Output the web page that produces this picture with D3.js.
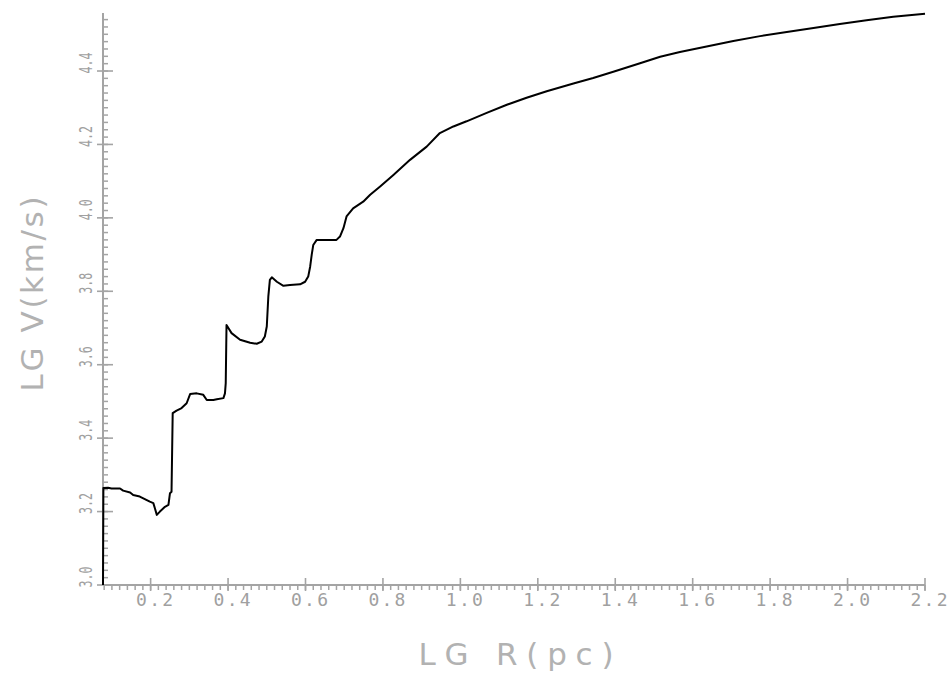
<!DOCTYPE html>
<html>
<head>
<meta charset="utf-8">
<script src="https://cdn.jsdelivr.net/npm/d3@7"></script>
<style>
    body { margin: 0; background: #ffffff; }
    .lbl { font-family: "DejaVu Sans Mono", monospace; fill: #a0a0a0; }
    .ttl { font-family: "DejaVu Sans", sans-serif; fill: #b2b2b2; }
</style>
</head>
<body>
<script>

    // Rotation curve: lg V vs lg R
    var lgR = [0.077, 0.078, 0.090, 0.099, 0.121, 0.129, 0.147, 0.155, 0.172, 0.185,
               0.198, 0.207, 0.211, 0.216, 0.224, 0.237, 0.246, 0.250, 0.254, 0.257,
               0.267, 0.280, 0.293, 0.302, 0.319, 0.336, 0.345, 0.362, 0.371, 0.388,
               0.392, 0.394, 0.396, 0.409, 0.431, 0.457, 0.474, 0.487, 0.495, 0.500,
               0.504, 0.508, 0.513, 0.526, 0.543, 0.560, 0.586, 0.599, 0.607, 0.612,
               0.616, 0.620, 0.629, 0.655, 0.680, 0.689, 0.698, 0.706, 0.723, 0.749,
               0.767, 0.792, 0.827, 0.870, 0.913, 0.947, 0.982, 1.016, 1.068, 1.120,
               1.171, 1.223, 1.292, 1.343, 1.395, 1.464, 1.516, 1.567, 1.636, 1.705,
               1.774, 1.843, 1.912, 1.980, 2.049, 2.118, 2.200];

    var lgV = [3.000, 3.264, 3.265, 3.263, 3.263, 3.257, 3.252, 3.245, 3.241, 3.234,
               3.227, 3.223, 3.209, 3.191, 3.200, 3.213, 3.218, 3.250, 3.254, 3.468,
               3.475, 3.482, 3.495, 3.520, 3.522, 3.518, 3.504, 3.504, 3.506, 3.509,
               3.522, 3.550, 3.708, 3.686, 3.668, 3.660, 3.657, 3.663, 3.677, 3.704,
               3.786, 3.831, 3.838, 3.826, 3.815, 3.817, 3.819, 3.826, 3.840, 3.867,
               3.899, 3.926, 3.940, 3.940, 3.940, 3.949, 3.972, 4.004, 4.026, 4.044,
               4.063, 4.085, 4.117, 4.158, 4.194, 4.231, 4.249, 4.263, 4.286, 4.308,
               4.327, 4.345, 4.366, 4.381, 4.398, 4.421, 4.439, 4.452, 4.467, 4.482,
               4.495, 4.506, 4.517, 4.528, 4.538, 4.548, 4.556];

    var xMajorTicks = [0.2, 0.4, 0.6, 0.8, 1.0, 1.2, 1.4, 1.6, 1.8, 2.0, 2.2];
    var xTickLabels = ["0.2", "0.4", "0.6", "0.8", "1.0", "1.2", "1.4", "1.6", "1.8", "2.0", "2.2"];
    var yMajorTicks = [3.0, 3.2, 3.4, 3.6, 3.8, 4.0, 4.2, 4.4];
    var yTickLabels = ["3.0", "3.2", "3.4", "3.6", "3.8", "4.0", "4.2", "4.4"];

    var xTitle = "LG R(pc)";
    var yTitle = "LG V(km/s)";

    var width = 950, height = 673;
    var axisColor = "#a4a4a4";

    var svg = d3.select("body").append("svg")
                .attr("width", width)
                .attr("height", height);

    var x = d3.scaleLinear().domain([0.077, 2.2]).range([103, 925]);
    var y = d3.scaleLinear().domain([3.0, 4.558]).range([585, 13]);

    // Minor ticks every 0.02 (x hangs below, y points inward)
    var xMinor = d3.range(0.08, 2.2001, 0.02);
    var yMinor = d3.range(3.0, 4.5501, 0.02);

    var axes = svg.append("g").attr("class", "axes");

    axes.selectAll(".xminor")
        .data(xMinor)
        .enter().append("line")
        .attr("class", "xminor")
        .attr("x1", function(d){ return x(d); })
        .attr("x2", function(d){ return x(d); })
        .attr("y1", y(3.0))
        .attr("y2", y(3.0) + 5)
        .attr("stroke", axisColor)
        .attr("stroke-width", 1.5);

    axes.selectAll(".yminor")
        .data(yMinor)
        .enter().append("line")
        .attr("class", "yminor")
        .attr("x1", x(0.077))
        .attr("x2", x(0.077) + 5)
        .attr("y1", function(d){ return y(d); })
        .attr("y2", function(d){ return y(d); })
        .attr("stroke", axisColor)
        .attr("stroke-width", 1.5);

    // Major ticks cross the axis line
    axes.selectAll(".xmajor")
        .data(xMajorTicks)
        .enter().append("line")
        .attr("class", "xmajor")
        .attr("x1", function(d){ return x(d); })
        .attr("x2", function(d){ return x(d); })
        .attr("y1", y(3.0) - 7)
        .attr("y2", y(3.0) + 6)
        .attr("stroke", axisColor)
        .attr("stroke-width", 1.6);

    axes.selectAll(".ymajor")
        .data(yMajorTicks)
        .enter().append("line")
        .attr("class", "ymajor")
        .attr("x1", x(0.077) - 6)
        .attr("x2", x(0.077) + 10)
        .attr("y1", function(d){ return y(d); })
        .attr("y2", function(d){ return y(d); })
        .attr("stroke", axisColor)
        .attr("stroke-width", 1.6);

    // Axis lines
    axes.append("line")
        .attr("x1", x(0.077)).attr("x2", x(2.2))
        .attr("y1", y(3.0)).attr("y2", y(3.0))
        .attr("stroke", axisColor)
        .attr("stroke-width", 2);

    axes.append("line")
        .attr("x1", x(0.077)).attr("x2", x(0.077))
        .attr("y1", y(3.0)).attr("y2", y(4.558))
        .attr("stroke", axisColor)
        .attr("stroke-width", 2);

    // Tick labels
    axes.selectAll(".xlabel")
        .data(xMajorTicks)
        .enter().append("text")
        .attr("class", "lbl xlabel")
        .attr("x", function(d){ return x(d) + 4; })
        .attr("y", 606)
        .attr("text-anchor", "middle")
        .attr("font-size", 18)
        .attr("textLength", 37)
        .attr("lengthAdjust", "spacing")
        .text(function(d, i){ return xTickLabels[i]; });

    axes.selectAll(".ylabel")
        .data(yMajorTicks)
        .enter().append("text")
        .attr("class", "lbl ylabel")
        .attr("transform", function(d){ return "translate(92," + (y(d) - 8) + ") rotate(-90)"; })
        .attr("text-anchor", "middle")
        .attr("font-size", 18)
        .attr("textLength", 21)
        .attr("lengthAdjust", "spacingAndGlyphs")
        .text(function(d, i){ return yTickLabels[i]; });

    // Axis titles
    svg.append("text")
       .attr("class", "ttl")
       .attr("x", 516)
       .attr("y", 665)
       .attr("text-anchor", "middle")
       .attr("font-size", 31)
       .attr("textLength", 195)
       .attr("lengthAdjust", "spacing")
       .text(xTitle);

    svg.append("text")
       .attr("class", "ttl")
       .attr("transform", "translate(43,294) rotate(-90)")
       .attr("text-anchor", "middle")
       .attr("font-size", 31)
       .attr("textLength", 195)
       .attr("lengthAdjust", "spacing")
       .text(yTitle);

    // The curve
    var line = d3.line()
                 .x(function(d){ return x(d[0]); })
                 .y(function(d){ return y(d[1]); });

    svg.append("path")
       .datum(d3.zip(lgR, lgV))
       .attr("d", line)
       .attr("fill", "none")
       .attr("stroke", "#000000")
       .attr("stroke-width", 2)
       .attr("stroke-linejoin", "round");

</script>
</body>
</html>
